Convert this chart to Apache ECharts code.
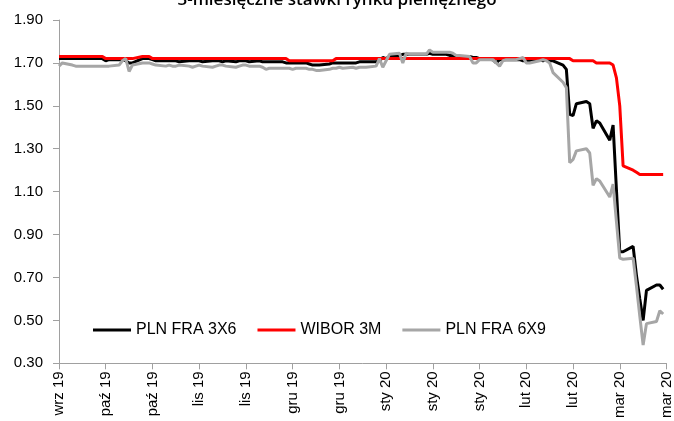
<!DOCTYPE html>
<html>
<head>
<meta charset="utf-8">
<script src="https://cdn.jsdelivr.net/npm/echarts@6/dist/echarts.min.js"></script>
<style>
html,body{margin:0;padding:0;background:#fff;}
#chart{width:674px;height:421px;}
</style>
</head>
<body>
<div id="chart"></div>
<script>
// Title and tick labels
const titleText = '3-miesięczne stawki rynku pieniężnego';
const tickLabels = ['wrz 19','paź 19','paź 19','lis 19','lis 19','gru 19','gru 19','sty 20','sty 20','sty 20','lut 20','lut 20','mar 20','mar 20'];
const seriesNames = ['PLN FRA 3X6', 'WIBOR 3M', 'PLN FRA 6X9'];

// x positions: business days counted in calendar days from the first date (a Thursday)
const days = [];
for (let d = 0; d <= 181; d++) { if (d % 7 !== 2 && d % 7 !== 3) days.push(d); }

const fra3x6 = [
  1.72, 1.72,
  1.72, 1.72, 1.72, 1.72, 1.72,
  1.72, 1.72, 1.72, 1.71, 1.715,
  1.715, 1.715, 1.71, 1.70, 1.70,
  1.72, 1.72, 1.72, 1.715, 1.71,
  1.71, 1.71, 1.71, 1.71, 1.705,
  1.71, 1.71, 1.71, 1.71, 1.705,
  1.71, 1.71, 1.71, 1.705, 1.71,
  1.705, 1.71, 1.71, 1.71, 1.705,
  1.71, 1.705, 1.705, 1.705, 1.705,
  1.705, 1.70, 1.70, 1.70, 1.70,
  1.70, 1.695, 1.69, 1.69, 1.69,
  1.695, 1.70, 1.70, 1.70, 1.70,
  1.70, 1.70, 1.705, 1.705, 1.705,
  1.705, 1.71, 1.725, 1.72, 1.73,
  1.735, 1.74, 1.74, 1.74, 1.74,
  1.74, 1.74, 1.745, 1.74, 1.74,
  1.74, 1.735, 1.735, 1.73, 1.73,
  1.73, 1.725, 1.725, 1.72, 1.72,
  1.715, 1.70, 1.715, 1.715, 1.715,
  1.715, 1.715, 1.71, 1.71, 1.71,
  1.715, 1.71, 1.715, 1.71, 1.71,
  1.69, 1.67, 1.46, 1.455, 1.51,
  1.52, 1.51, 1.395, 1.43, 1.42,
  1.34, 1.41, 1.11, 0.82, 0.82,
  0.845, 0.71, 0.60, 0.50, 0.64,
  0.665, 0.665, 0.645
];

const wibor3m = [
  1.73, 1.73,
  1.73, 1.73, 1.73, 1.73, 1.73,
  1.73, 1.73, 1.73, 1.72, 1.72,
  1.72, 1.72, 1.72, 1.72, 1.72,
  1.73, 1.73, 1.73, 1.72, 1.72,
  1.72, 1.72, 1.72, 1.72, 1.72,
  1.72, 1.72, 1.72, 1.72, 1.72,
  1.72, 1.72, 1.72, 1.72, 1.72,
  1.72, 1.72, 1.72, 1.72, 1.72,
  1.72, 1.72, 1.72, 1.72, 1.72,
  1.72, 1.72, 1.71, 1.71, 1.71,
  1.71, 1.71, 1.71, 1.71, 1.71,
  1.71, 1.71, 1.72, 1.72, 1.72,
  1.72, 1.72, 1.72, 1.72, 1.72,
  1.72, 1.72, 1.72, 1.72, 1.72,
  1.72, 1.72, 1.72, 1.72, 1.72,
  1.72, 1.72, 1.72, 1.72, 1.72,
  1.72, 1.72, 1.72, 1.72, 1.72,
  1.72, 1.72, 1.72, 1.72, 1.72,
  1.72, 1.72, 1.72, 1.72, 1.72,
  1.72, 1.72, 1.72, 1.72, 1.72,
  1.72, 1.72, 1.72, 1.72, 1.72,
  1.72, 1.72, 1.72, 1.71, 1.71,
  1.71, 1.71, 1.71, 1.70, 1.70,
  1.70, 1.69, 1.63, 1.50, 1.22,
  1.20, 1.19, 1.18, 1.18, 1.18,
  1.18, 1.18, 1.18
];

const fra6x9 = [
  1.685, 1.70,
  1.69, 1.685, 1.685, 1.685, 1.685,
  1.685, 1.685, 1.685, 1.685, 1.685,
  1.69, 1.71, 1.72, 1.66, 1.69,
  1.70, 1.70, 1.70, 1.695, 1.69,
  1.685, 1.69, 1.685, 1.685, 1.69,
  1.685, 1.68, 1.685, 1.69, 1.685,
  1.68, 1.685, 1.69, 1.69, 1.685,
  1.68, 1.685, 1.69, 1.69, 1.685,
  1.685, 1.68, 1.67, 1.675, 1.675,
  1.675, 1.675, 1.675, 1.67, 1.675,
  1.675, 1.67, 1.67, 1.665, 1.665,
  1.67, 1.675, 1.675, 1.68, 1.675,
  1.68, 1.675, 1.68, 1.68, 1.68,
  1.685, 1.72, 1.68, 1.71, 1.74,
  1.745, 1.70, 1.745, 1.74, 1.74,
  1.74, 1.74, 1.76, 1.75, 1.75,
  1.75, 1.75, 1.745, 1.735, 1.735,
  1.73, 1.70, 1.70, 1.715, 1.715,
  1.715, 1.70, 1.685, 1.71, 1.715,
  1.715, 1.72, 1.725, 1.70, 1.70,
  1.71, 1.715, 1.71, 1.70, 1.655,
  1.61, 1.585, 1.235, 1.25, 1.29,
  1.30, 1.28, 1.13, 1.16, 1.15,
  1.075, 1.135, 0.96, 0.79, 0.785,
  0.79, 0.66, 0.52, 0.385, 0.485,
  0.495, 0.545, 0.53
];

const pairs = (vals) => days.map((d, i) => [d, vals[i]]);
const FONT = '"Liberation Sans", Arial, sans-serif';

const chart = echarts.init(document.getElementById('chart'), null, {renderer: 'canvas'});
chart.setOption({
  animation: false,
  backgroundColor: '#ffffff',
  title: {
    text: titleText,
    left: 'center',
    top: -13,
    textStyle: {fontFamily: '"Open Sans", sans-serif', fontSize: 17, fontWeight: 600, color: '#000'}
  },
  grid: {left: 59, right: 7, top: 20, bottom: 52, containLabel: false},
  legend: {
    left: 93, top: 322, padding: 0,
    itemWidth: 38, itemHeight: 3, itemGap: 21,
    icon: 'rect',
    textStyle: {fontFamily: FONT, fontSize: 16, color: '#000'},
    data: seriesNames
  },
  xAxis: {
    type: 'value', min: 0, max: 182, interval: 14,
    axisLine: {show: true, lineStyle: {color: '#a0a0a0', width: 1}},
    axisTick: {show: true, inside: false, length: 6, lineStyle: {color: '#a0a0a0'}},
    splitLine: {show: false},
    axisLabel: {
      rotate: 90, margin: 8, fontFamily: FONT, fontSize: 15, color: '#000',
      showMinLabel: true, showMaxLabel: true, hideOverlap: false,
      formatter: (v) => tickLabels[Math.round(v / 14)] || ''
    }
  },
  yAxis: {
    type: 'value', min: 0.3, max: 1.9, interval: 0.2,
    axisLine: {show: true, lineStyle: {color: '#a0a0a0', width: 1}},
    axisTick: {show: true, inside: false, length: 6, lineStyle: {color: '#a0a0a0'}},
    splitLine: {show: false},
    axisLabel: {margin: 16, fontFamily: FONT, fontSize: 15, color: '#000', formatter: (v) => v.toFixed(2)}
  },
  series: [
    {name: seriesNames[0], type: 'line', data: pairs(fra3x6), showSymbol: false, symbol: 'none',
     lineStyle: {color: '#000000', width: 3}, itemStyle: {color: '#000000'}},
    {name: seriesNames[1], type: 'line', data: pairs(wibor3m), showSymbol: false, symbol: 'none',
     lineStyle: {color: '#ff0000', width: 3}, itemStyle: {color: '#ff0000'}},
    {name: seriesNames[2], type: 'line', data: pairs(fra6x9), showSymbol: false, symbol: 'none',
     lineStyle: {color: '#a6a6a6', width: 3}, itemStyle: {color: '#a6a6a6'}}
  ]
});
</script>
</body>
</html>
